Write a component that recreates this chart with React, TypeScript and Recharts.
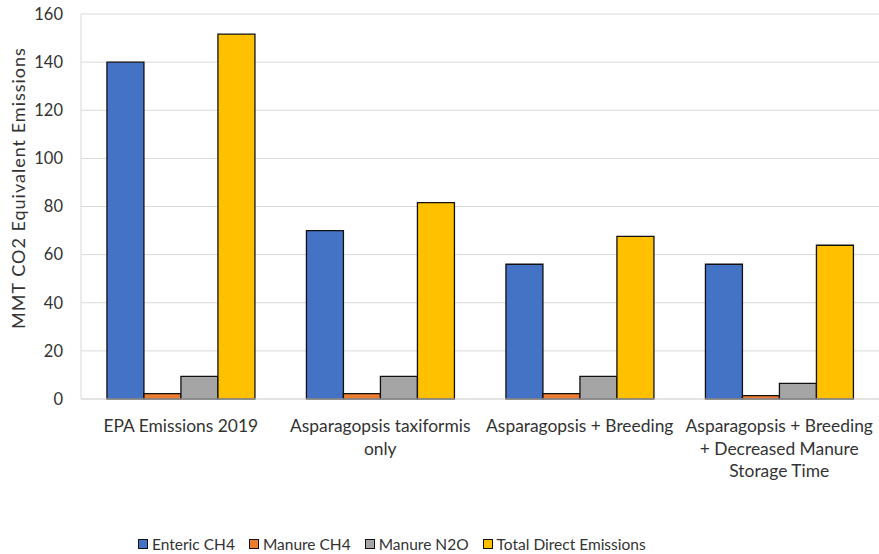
import { BarChart, Bar, XAxis, YAxis, CartesianGrid, Legend, Text } from 'recharts';

const categories = [
  'EPA Emissions 2019',
  'Asparagopsis taxiformis only',
  'Asparagopsis + Breeding',
  'Asparagopsis + Breeding + Decreased Manure Storage Time',
];
const entericCH4 = [140, 70, 56, 56];
const manureCH4 = [2.2, 2.2, 2.2, 1.4];
const manureN2O = [9.4, 9.4, 9.4, 6.5];
const totalDirect = [151.6, 81.6, 67.6, 63.9];
const yTicks = [0, 20, 40, 60, 80, 100, 120, 140, 160];

const FONT = 'Lato, "Open Sans", sans-serif';
const TEXT = '#333333';
const GRID = '#d9d9d9';

const data = categories.map((name, i) => ({
  name,
  enteric: entericCH4[i],
  manureCH4: manureCH4[i],
  manureN2O: manureN2O[i],
  total: totalDirect[i],
}));

// category names wrap onto up to three centred lines
function CategoryTick({ x, y, payload }: any) {
  return (
    <Text
      x={x}
      y={y + 19}
      width={178}
      textAnchor="middle"
      verticalAnchor="start"
      lineHeight={22.5}
      fill={TEXT}
      style={{ fontFamily: FONT, fontSize: 17.4 }}
    >
      {payload.value}
    </Text>
  );
}

function AxisTitle() {
  return (
    <text
      x={0}
      y={0}
      transform="translate(25 188) rotate(-90)"
      textAnchor="middle"
      fill={TEXT}
      style={{ fontFamily: FONT, fontSize: 18, letterSpacing: 1 }}
    >
      MMT CO2 Equivalent Emissions
    </text>
  );
}

function LegendContent({ payload }: any) {
  return (
    <div style={{ display: 'flex', fontFamily: FONT, fontSize: 15.5, color: TEXT, whiteSpace: 'nowrap' }}>
      {(payload || []).map((p: any) => (
        <div key={p.value} style={{ display: 'flex', alignItems: 'center', marginRight: 14 }}>
          <span
            style={{
              display: 'inline-block',
              width: 8,
              height: 8,
              background: p.color,
              border: '1.5px solid #111',
              marginRight: 4,
            }}
          />
          {p.value}
        </div>
      ))}
    </div>
  );
}

export default function App() {
  return (
    <div style={{ position: 'absolute', left: 0, top: 0, background: '#fff' }}>
      <BarChart
        width={879}
        height={554}
        data={data}
        margin={{ top: 14, right: 0, bottom: 55, left: 0 }}
        barCategoryGap="13%"
        barGap={0}
      >
        <CartesianGrid vertical={false} stroke={GRID} />
        <XAxis
          dataKey="name"
          height={100}
          axisLine={{ stroke: GRID }}
          tickLine={false}
          tickSize={0}
          tick={<CategoryTick />}
          interval={0}
        />
        <YAxis
          width={81}
          domain={[0, 160]}
          ticks={yTicks}
          axisLine={{ stroke: GRID }}
          tickLine={false}
          tickSize={0}
          tickMargin={18}
          tick={{ fill: TEXT, fontFamily: FONT, fontSize: 16.5 }}
          label={{ content: <AxisTitle /> }}
        />
        <Legend
          layout="horizontal"
          verticalAlign="middle"
          align="center"
          wrapperStyle={{ top: 535, left: 138, width: 'auto' }}
          content={<LegendContent />}
        />
        <Bar dataKey="enteric" name="Enteric CH4" fill="#4472C4" stroke="#111" strokeWidth={1.3} isAnimationActive={false} />
        <Bar dataKey="manureCH4" name="Manure CH4" fill="#ED7D31" stroke="#111" strokeWidth={1.3} isAnimationActive={false} />
        <Bar dataKey="manureN2O" name="Manure N2O" fill="#A5A5A5" stroke="#111" strokeWidth={1.3} isAnimationActive={false} />
        <Bar dataKey="total" name="Total Direct Emissions" fill="#FFC000" stroke="#111" strokeWidth={1.3} isAnimationActive={false} />
      </BarChart>
    </div>
  );
}
